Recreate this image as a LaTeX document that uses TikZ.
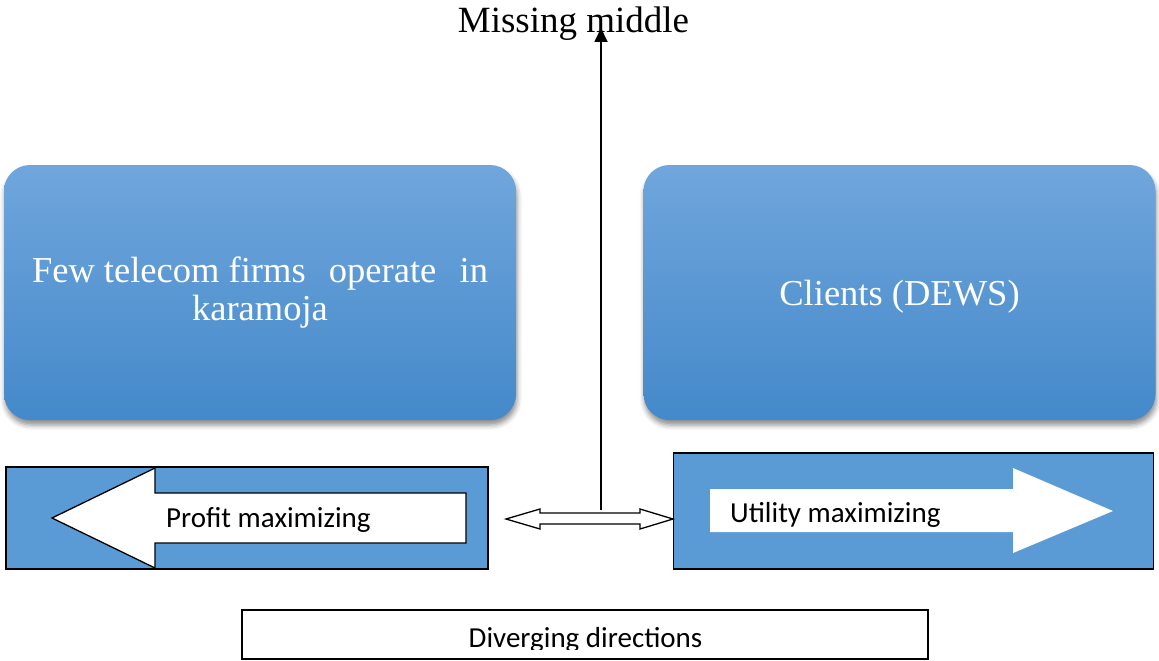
\documentclass[tikz,border=0pt]{standalone}
\usepackage{fontspec}
\setmainfont{Liberation Serif}
\newfontfamily\calibri{Carlito}
\usetikzlibrary{arrows.meta,shadows.blur}
\definecolor{boxtop}{RGB}{112,166,220}
\definecolor{boxbot}{RGB}{68,137,202}
\definecolor{lanefill}{RGB}{91,155,213}
\tikzset{
	party/.style={rounded corners=26pt, top color=boxtop, bottom color=boxbot,
		minimum width=512pt, minimum height=255pt, inner sep=0pt, align=center,
		text=white, font=\fontsize{36.5}{38}\selectfont,
		blur shadow={shadow xshift=1pt, shadow yshift=-5pt, shadow blur radius=5pt, shadow opacity=45}},
	lane/.style={draw, line width=1.6pt, fill=lanefill, inner sep=0pt},
	lanetext/.style={anchor=base west, inner sep=0pt, font=\calibri\fontsize{29}{34}\selectfont},
}
\begin{document}
\begin{tikzpicture}[x=1pt, y=-1pt, line join=miter]
	\useasboundingbox (0,0) rectangle (1159,661);
	%\draw[gray!40] (0,0) grid[step=50] (1159,661);
	% the two sides
	\node[party] (firms) at (260,292.5) {\makebox[456pt]{Few telecom firms\hfill operate\hfill in}\\karamoja};
	\node[party] (clients) at (899.5,292.5) {\raisebox{-4pt}[25pt][8pt]{Clients (DEWS)}};
	% lower bands with the direction arrows
	\node[lane, minimum width=482pt, minimum height=102pt] (profit) at (247,518) {};
	\node[lane, minimum width=480pt, minimum height=116pt] (utility) at (913.5,511) {};
	\draw[line width=1.3pt, fill=white] (466,493) -- (155,493) -- (155,468) -- (52,518)
		-- (155,568) -- (155,543) -- (466,543) -- cycle;
	\node[lanetext] (ptext) at (166,527) {Profit maximizing};
	\fill[white] (710,489) -- (1013,489) -- (1013,468) -- (1113,511)
		-- (1013,553) -- (1013,532) -- (710,532) -- cycle;
	\node[lanetext] (utext) at (730,522) {Utility maximizing};
	% hollow double arrow between the bands
	\draw[line width=1.3pt, fill=white] (506,519) -- (540,509) -- (540,513) -- (640,513)
		-- (640,509) -- (673,519) -- (640,529) -- (640,524) -- (540,524) -- (540,529) -- cycle;
	% missing middle
	\node[anchor=base, inner sep=0pt, font=\fontsize{37}{38}\selectfont] (missing) at (573.5,33) {Missing middle};
	\coordinate (gap) at (601,510);
	\coordinate (top) at (601,28);
	\draw[line width=1.8pt, -{Triangle[width=13pt,length=14pt]}] (gap) -- (top);
	% caption box
	\node[draw, line width=1.8pt, minimum width=686pt, minimum height=49pt, inner sep=0pt] (diverge) at (585,634.5) {};
	\begin{scope}
		\clip (242,610) rectangle (928,649);
		\node[anchor=base, inner sep=0pt, font=\calibri\fontsize{29}{34}\selectfont] (dtext) at (585.5,647) {Diverging directions};
	\end{scope}
\end{tikzpicture}
\end{document}
